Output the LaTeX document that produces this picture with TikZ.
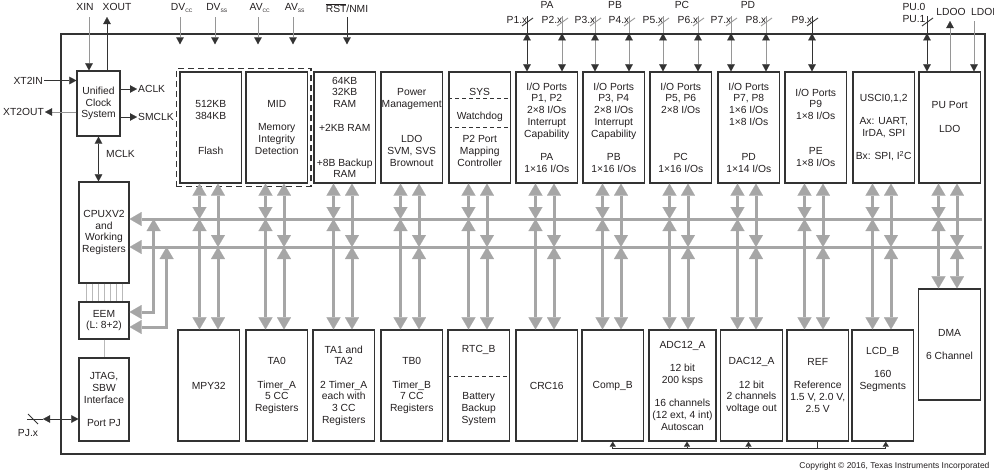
\documentclass[tikz,border=0pt]{standalone}
\usepackage{fontspec}
\setmainfont{Liberation Sans}
\usetikzlibrary{arrows.meta, positioning, calc, fit}
\definecolor{TIInk}{RGB}{35,31,32}
\definecolor{TIBorder}{RGB}{51,51,51}
\definecolor{TIBusGray}{RGB}{166,166,166}
\definecolor{TIPinGray}{RGB}{150,150,150}
\definecolor{TIThinGray}{RGB}{185,185,185}

\begin{document}
\begin{tikzpicture}[x=1pt,y=-1pt,
  every node/.style={font=\fontsize{10.3}{11.7}\selectfont, text=TIInk},
  blk/.style={draw=TIBorder, line width=1.2pt, minimum width=61.5pt, minimum height=111pt, inner sep=0pt, align=center},
  pinlbl/.style={inner sep=1pt, align=center},
  pinlead/.style={draw=TIPinGray, line width=0.9pt, >={Triangle[length=7pt,width=7.5pt,line width=0.1pt,color=TIBorder]}},
  pinleaddark/.style={draw=TIBorder, line width=0.9pt, >={Triangle[length=7pt,width=7.5pt,line width=0.1pt]}},
  busarrow/.style={draw=TIBusGray, line width=3pt, >={Triangle[length=12pt,width=14pt,line width=0.1pt]}},
  thinlink/.style={draw=TIThinGray, line width=0.8pt},
  reflink/.style={draw=TIBorder, line width=0.8pt, >={Triangle[length=5pt,width=6pt,line width=0.1pt]}},
  divider/.style={draw=TIBorder, line width=0.8pt, dash pattern=on 4pt off 3pt}]
  \path[use as bounding box] (0,0) rectangle (994,474);
  \node[draw=TIBorder, line width=1.3pt, minimum width=924pt, minimum height=420pt, inner sep=0pt] (chip) at (523,244) {};

  % clock, cpu, debug
  \node[blk, minimum width=43pt, minimum height=65pt] (ucs) at (98.5,103.5) {Unified\\Clock\\System};
  \node[blk, minimum width=50pt, minimum height=101pt] (cpu) at (104,232.5) {CPUXV2\\and\\Working\\Registers};
  \node[blk, minimum width=50pt, minimum height=37pt] (eem) at (104,320.5) {EEM\\(L: 8+2)};
  \node[blk, minimum width=50pt, minimum height=83pt] (jtag) at (104,399.5) {JTAG,\\SBW\\Interface\\[11.7pt]Port PJ};

  % top row
  \node[blk] (t1) at (210.75,127.5) {512KB\\384KB\\[23.4pt]Flash};
  \node[blk] (t2) at (276.75,127.5) {MID\\[11.7pt]Memory\\Integrity\\Detection};
  \node[blk] (t3) at (344.75,127.5) {64KB\\32KB\\RAM\\[11.7pt]+2KB RAM\\[23.4pt]+8B Backup\\RAM};
  \node[blk] (t4) at (411.75,127.5) {Power\\Management\\[23.4pt]LDO\\SVM, SVS\\Brownout};
  \node[blk] (t5) at (479.75,127.5) {SYS\\[11.7pt]Watchdog\\[11.7pt]P2 Port\\Mapping\\Controller};
  \node[blk] (t6) at (546.75,127.5) {I/O Ports\\P1, P2\\2×8 I/Os\\Interrupt\\Capability\\[11.7pt]PA\\1×16 I/Os};
  \node[blk] (t7) at (613.75,127.5) {I/O Ports\\P3, P4\\2×8 I/Os\\Interrupt\\Capability\\[11.7pt]PB\\1×16 I/Os};
  \node[blk] (t8) at (680.75,127.5) {I/O Ports\\P5, P6\\2×8 I/Os\\[35.1pt]PC\\1×16 I/Os};
  \node[blk] (t9) at (748.75,127.5) {I/O Ports\\P7, P8\\1×6 I/Os\\1×8 I/Os\\[23.4pt]PD\\1×14 I/Os};
  \node[blk] (t10) at (815.75,127.5) {I/O Ports\\P9\\1×8 I/Os\\[23.4pt]PE\\1×8 I/Os};
  \node[blk] (t11) at (883.75,127.5) {USCI0,1,2\\[11.7pt]Ax: UART,\\IrDA, SPI\\[11.7pt]Bx: SPI, I\textsuperscript{2}C};
  \node[blk] (t12) at (949.75,127.5) {};
  \node[align=center] (putxt) at ([yshift=10.5pt]t12.center) {PU Port\\[11.7pt]LDO};
  \node[draw=TIBorder, line width=1.3pt, dash pattern=on 6pt off 4pt, inner sep=3pt, fit=(t1)(t2)] (memfit) {};
  \draw[divider] ([yshift=29.5pt]t5.west) -- ([yshift=29.5pt]t5.east);
  \draw[divider] (t5.west) -- (t5.east);

  % bottom row
  \node[blk] (b1) at (208.75,385.5) {MPY32};
  \node[blk] (b2) at (276.75,385.5) {TA0\\[11.7pt]Timer\_A\\5 CC\\Registers};
  \node[blk] (b3) at (343.75,385.5) {TA1 and\\TA2\\[11.7pt]2 Timer\_A\\each with\\3 CC\\Registers};
  \node[blk] (b4) at (411.75,385.5) {TB0\\[11.7pt]Timer\_B\\7 CC\\Registers};
  \node[blk] (b5) at (478.75,385.5) {RTC\_B\\[35.1pt]Battery\\Backup\\System};
  \node[blk] (b6) at (546.75,385.5) {CRC16};
  \node[blk] (b7) at (612.75,385.5) {Comp\_B};
  \node[blk, minimum width=67pt] (b8) at (682.5,385.5) {ADC12\_A\\[11.7pt]12 bit\\200 ksps\\[11.7pt]16 channels\\(12 ext, 4 int)\\Autoscan};
  \node[blk] (b9) at (751.5,385.5) {DAC12\_A\\[11.7pt]12 bit\\2 channels\\voltage out};
  \node[blk] (b10) at (817.75,385.5) {REF\\[11.7pt]Reference\\1.5 V, 2.0 V,\\2.5 V};
  \node[blk] (b11) at (882.75,385.5) {};
  \node[align=center] (lcdtxt) at ([yshift=16pt]b11.center) {LCD\_B\\[11.7pt]160\\Segments};
  \node[blk] (b12) at (949.5,344.5) {DMA\\[11.7pt]6 Channel};
  \draw[divider] ([yshift=9.5pt]b5.west) -- ([yshift=9.5pt]b5.east);

  % buses
  \coordinate (busA) at (982,219);
  \coordinate (busB) at (982,247);
  \draw[busarrow,->] (busA) -- (busA -| cpu.east);
  \draw[busarrow,->] (busB) -- (busB -| cpu.east);
  \draw[busarrow,<->] ([yshift=8.5pt]eem.east) -| ([xshift=24pt]eem.east |- busA);
  \draw[busarrow,<->] ([yshift=-6.5pt]eem.east) -| ([xshift=37pt]eem.east |- busB);
  \foreach \i in {1,...,12} {
    \draw[busarrow,<->] ([xshift=-11.25pt]t\i.south) -- ([xshift=-11.25pt]t\i.south |- busA);
    \draw[busarrow,<->] ([xshift=-11.25pt]t\i.south |- busA) -- ([xshift=-11.25pt]t\i.south |- b\i.north);
    \draw[busarrow,<->] ([xshift=7.25pt]t\i.south) -- ([xshift=7.25pt]t\i.south |- busB);
    \draw[busarrow,<->] ([xshift=7.25pt]t\i.south |- busB) -- ([xshift=7.25pt]t\i.south |- b\i.north);
  }
  \foreach \d in {-18,-12,...,18}
    \draw[thinlink] ([xshift=\d pt]cpu.south) -- ([xshift=\d pt]eem.north);
  \draw[thinlink] (eem.south) -- (jtag.north);

  % reference voltage
  \draw[reflink] (b10.south) -- ++(0,7) coordinate (refjoin);
  \draw[reflink] (b7.south |- refjoin) -- ([xshift=3pt]b11.south |- refjoin);
  \foreach \b/\s in {b7/0, b8/4.5, b9/-3, b11/3}
    \draw[reflink,->] ([xshift=\s pt]\b.south |- refjoin) -- ([xshift=\s pt]\b.south);

  % clock pins
  \coordinate (xinpin) at (89,17);
  \coordinate (xoutpin) at (107,17);
  \node[pinlbl] (xin) at (85,7) {XIN};
  \node[pinlbl] (xout) at (117,7) {XOUT};
  \draw[pinlead,->] (xinpin) -- (xinpin |- ucs.north);
  \draw[pinleaddark,->] (xoutpin |- ucs.north) -- (xoutpin);
  \node[pinlbl, anchor=east] (xt2in) at (44,80.5) {XT2IN};
  \node[pinlbl, anchor=east] (xt2out) at (45,112) {XT2OUT};
  \draw[pinleaddark,->] (xt2in.east) -- (xt2in.east -| ucs.west);
  \draw[pinlead,->] (xt2out.east -| ucs.west) -- (xt2out.east);
  \node[pinlbl, anchor=west] (aclk) at (137,89) {ACLK};
  \node[pinlbl, anchor=west] (smclk) at (137,117) {SMCLK};
  \draw[pinleaddark,->] (aclk.west -| ucs.east) -- (aclk.west);
  \draw[pinleaddark,->] (smclk.west -| ucs.east) -- (smclk.west);
  \draw[pinleaddark,<->] (ucs.south) -- (ucs.south |- cpu.north);
  \node[pinlbl, anchor=west] (mclk) at (105,154) {MCLK};

  % supply pins
  \foreach \x/\n/\t in {180/dvcc/{DV\textsubscript{\tiny CC}}, 215/dvss/{DV\textsubscript{\tiny SS}}, 258/avcc/{AV\textsubscript{\tiny CC}}, 293/avss/{AV\textsubscript{\tiny SS}}} {
    \coordinate (\n pin) at (\x,17);
    \node[pinlbl] (\n) at (\x+2,8) {\t};
    \draw[pinlead,->] (\n pin) -- ([yshift=-11pt]\n pin |- chip.north);
  }
  \coordinate (rstpin) at (347,17);
  \node[pinlbl] (rst) at (347,8) {$\overline{\mbox{RST}}$/NMI};
  \draw[pinleaddark,->] (rstpin) -- ([yshift=-11pt]rstpin |- chip.north);

  % port pins
  \node[pinlbl] (pa) at (547,5) {PA};
  \node[pinlbl] (pb) at (615,5) {PB};
  \node[pinlbl] (pc) at (682,5) {PC};
  \node[pinlbl] (pd) at (748,5) {PD};
  \foreach \x/\n/\b/\c in {527/1/t6/pinleaddark, 562/2/t6/pinlead, 595/3/t7/pinlead, 629/4/t7/pinlead, 663/5/t8/pinlead, 698/6/t8/pinlead, 731/7/t9/pinlead, 766/8/t9/pinlead, 812/9/t10/pinleaddark} {
    \coordinate (p\n) at (\x,16);
    \node[pinlbl] (lbl\n) at (\x-10,20) {P\n.x};
    \draw[\c] (p\n) -- (p\n |- chip.north);
    \draw[\c,<->] (p\n |- chip.north) -- (p\n |- \b.north);
    \draw[\c] ([shift={(-5,10)}]p\n) -- ([shift={(6,2)}]p\n);
  }
  \coordinate (pupin) at (927,16);
  \node[pinlbl, font=\fontsize{10.3}{12}\selectfont] (pulbl) at (914,13) {PU.0\\PU.1};
  \draw[pinleaddark] (pupin) -- (pupin |- chip.north);
  \draw[pinleaddark,<->] (pupin |- chip.north) -- (pupin |- t12.north);
  \draw[pinleaddark] ([shift={(-5,10)}]pupin) -- ([shift={(6,2)}]pupin);
  \coordinate (ldoopin) at (950,21);
  \coordinate (ldoipin) at (974,21);
  \node[pinlbl] (ldoo) at (951,12) {LDOO};
  \node[pinlbl, anchor=west] (ldoi) at (970,12) {LDOI};
  \draw[pinlead,->] (ldoopin |- t12.north) -- (ldoopin);
  \draw[pinlead,->] (ldoipin) -- (ldoipin |- t12.north);

  % JTAG pin
  \coordinate (pjpin) at (27,419);
  \draw[pinleaddark] (pjpin) -- ++(16,0) coordinate (pjtip);
  \draw[pinleaddark,<->] (pjtip) -- (pjtip -| jtag.west);
  \draw[pinleaddark] ([shift={(1,-5)}]pjpin) -- ([shift={(11,5)}]pjpin);
  \node[pinlbl] (pjx) at (28,433) {PJ.x};

  \node[anchor=east, font=\fontsize{8.5}{10}\selectfont] (copy) at (993,466) {Copyright © 2016, Texas Instruments Incorporated};
\end{tikzpicture}
\end{document}
